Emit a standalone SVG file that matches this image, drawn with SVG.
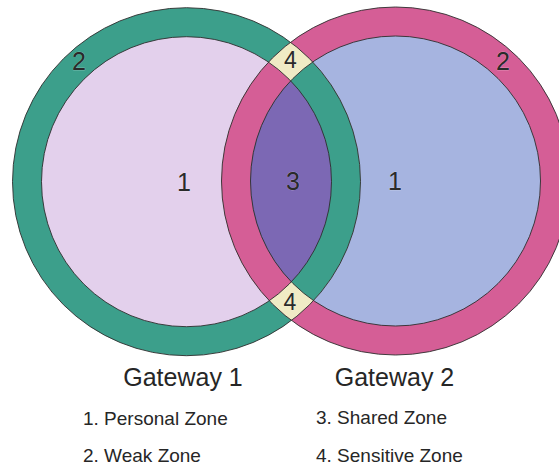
<svg xmlns="http://www.w3.org/2000/svg" width="559" height="468" viewBox="0 0 559 468">
  <style>
    .edge { fill: none; stroke: #2e2e2e; stroke-width: 0.9; }
    .num { font-family: "Liberation Sans", Arial, sans-serif; font-size: 25px; fill: #2a2a2a; text-anchor: middle; stroke: #ffffff; stroke-width: 0.4; stroke-opacity: 0.5; paint-order: stroke; }
    .title { font-family: "Liberation Sans", Arial, sans-serif; font-size: 25px; fill: #262626; text-anchor: middle; }
    .legend { font-family: "Liberation Sans", Arial, sans-serif; font-size: 19px; fill: #262626; }
  </style>
  <defs>
    <circle id="g1-outer" cx="186.5" cy="181.7" r="174"/>
    <circle id="g1-inner" cx="186.5" cy="181.7" r="145"/>
    <circle id="g2-outer" cx="395.5" cy="181" r="174"/>
    <circle id="g2-inner" cx="395.5" cy="181" r="145"/>
    <clipPath id="clip-g1-outer"><use href="#g1-outer"/></clipPath>
    <clipPath id="clip-g1-inner"><use href="#g1-inner"/></clipPath>
    <clipPath id="clip-g2-outer"><use href="#g2-outer"/></clipPath>
  </defs>

  <!-- Gateway 1: weak ring around the personal zone -->
  <g id="gateway-1">
    <use href="#g1-outer" fill="#3c9f8b"/>
    <use href="#g1-inner" fill="#e3d0ec"/>
  </g>

  <!-- Gateway 2: weak ring around the personal zone -->
  <g id="gateway-2">
    <use href="#g2-outer" fill="#d55e96"/>
    <use href="#g2-inner" fill="#a6b4e0"/>
  </g>

  <!-- Overlap regions -->
  <g id="overlap">
    <!-- both weak rings: sensitive zone -->
    <use href="#g2-outer" fill="#f0ebc5" clip-path="url(#clip-g1-outer)"/>
    <!-- gateway 2 ring over gateway 1 interior -->
    <use href="#g1-inner" fill="#d55e96" clip-path="url(#clip-g2-outer)"/>
    <!-- gateway 1 ring over gateway 2 interior -->
    <use href="#g2-inner" fill="#3c9f8b" clip-path="url(#clip-g1-outer)"/>
    <!-- both interiors: shared zone -->
    <use href="#g2-inner" fill="#7c68b4" clip-path="url(#clip-g1-inner)"/>
  </g>

  <!-- Outlines -->
  <g id="outlines">
    <use href="#g1-outer" class="edge"/>
    <use href="#g1-inner" class="edge"/>
    <use href="#g2-outer" class="edge"/>
    <use href="#g2-inner" class="edge"/>
  </g>

  <!-- Zone numbers -->
  <g id="zone-numbers">
    <text class="num" x="79" y="70">2</text>
    <text class="num" x="184" y="191">1</text>
    <text class="num" x="293" y="190">3</text>
    <text class="num" x="395" y="190">1</text>
    <text class="num" x="503" y="70">2</text>
    <text class="num" x="290.5" y="68" style="font-size:23px">4</text>
    <text class="num" x="290" y="310" style="font-size:23px">4</text>
  </g>

  <!-- Titles and legend -->
  <g id="titles">
    <text class="title" x="183" y="386">Gateway 1</text>
    <text class="title" x="394.5" y="386">Gateway 2</text>
  </g>
  <g id="legend">
    <text class="legend" x="83" y="425">1. Personal Zone</text>
    <text class="legend" x="83" y="461.5">2. Weak Zone</text>
    <text class="legend" x="316" y="424">3. Shared Zone</text>
    <text class="legend" x="316" y="462">4. Sensitive Zone</text>
  </g>
</svg>
